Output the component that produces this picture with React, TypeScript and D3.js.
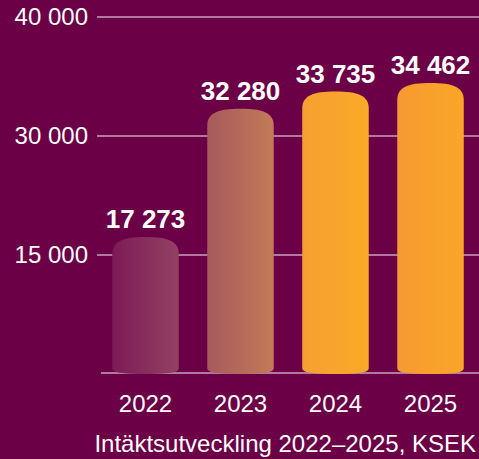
import { useEffect, useRef } from 'react';
import * as d3 from 'd3';

const years = ['2022', '2023', '2024', '2025'];
const revenue = [17273, 32280, 33735, 34462];
const tickValues = [0, 15000, 30000, 40000];
const tickLabels = ['', '15 000', '30 000', '40 000'];
const caption = 'Intäktsutveckling 2022–2025, KSEK';

// left/right colours of each bar's gradient
const barColors: [string, string][] = [
  ['#7c1a57', '#934262'],
  ['#a65a5c', '#c27a58'],
  ['#f6a032', '#f9aa27'],
  ['#f69a32', '#faa627'],
];

const W = 479;
const H = 459;
const BG = '#6b0046';
const GRID = '#c9a0bf';
const FONT = '"Liberation Sans", Arial, sans-serif';

const fmt = (v: number) => d3.format(',')(v).replace(/,/g, ' ');

export default function App() {
  const ref = useRef<SVGSVGElement>(null);

  useEffect(() => {
    if (!ref.current) return;
    const svg = d3.select(ref.current);
    svg.selectAll('*').remove();

    // axis ticks are evenly spaced, so the scale is piecewise linear
    const y = d3.scaleLinear()
      .domain(tickValues)
      .range([373, 255, 136, 17]);

    const x = d3.scaleBand<string>()
      .domain(years)
      .range([98, 478])
      .paddingInner(0.3)
      .paddingOuter(0.15);

    svg.append('rect').attr('width', W).attr('height', H).attr('fill', BG);

    const defs = svg.append('defs');
    barColors.forEach((c, i) => {
      const g = defs.append('linearGradient')
        .attr('id', `bar-grad-${i}`)
        .attr('x1', 0).attr('x2', 1).attr('y1', 0).attr('y2', 0);
      g.append('stop').attr('offset', '0%').attr('stop-color', c[0]);
      g.append('stop').attr('offset', '100%').attr('stop-color', c[1]);
    });

    // grid lines
    svg.append('g')
      .selectAll('line')
      .data(tickValues)
      .join('line')
      .attr('x1', d => (d === 0 ? 101 : 97))
      .attr('x2', W)
      .attr('y1', d => y(d))
      .attr('y2', d => y(d))
      .attr('stroke', GRID)
      .attr('stroke-width', 1.6);

    // y tick labels
    svg.append('g')
      .selectAll('text')
      .data(tickValues)
      .join('text')
      .attr('x', 88)
      .attr('y', d => y(d))
      .attr('dy', '0.35em')
      .attr('text-anchor', 'end')
      .attr('fill', '#ffffff')
      .style('font-family', FONT)
      .style('font-size', '24px')
      .text((_, i) => tickLabels[i]);

    // bar with domed top
    const barPath = (x0: number, w: number, yt: number, yb: number) => {
      const x1 = x0 + w;
      const ry = 17;
      const rb = 6;
      return [
        `M${x0},${yb - rb}`,
        `L${x0},${yt + ry}`,
        `C${x0},${yt + ry * 0.25} ${x0 + w * 0.16},${yt} ${x0 + w / 2},${yt}`,
        `C${x1 - w * 0.16},${yt} ${x1},${yt + ry * 0.25} ${x1},${yt + ry}`,
        `L${x1},${yb - rb}`,
        `C${x1},${yb - rb * 0.2} ${x1 - w * 0.15},${yb} ${x0 + w / 2},${yb}`,
        `C${x0 + w * 0.15},${yb} ${x0},${yb - rb * 0.2} ${x0},${yb - rb}`,
        'Z',
      ].join(' ');
    };

    const bw = x.bandwidth();
    svg.append('g')
      .selectAll('path')
      .data(revenue)
      .join('path')
      .attr('d', (d, i) => barPath(x(years[i]) ?? 0, bw, y(d), y(0) + 1))
      .attr('fill', (_, i) => `url(#bar-grad-${i})`);

    // value labels
    svg.append('g')
      .selectAll('text')
      .data(revenue)
      .join('text')
      .attr('x', (_, i) => (x(years[i]) ?? 0) + bw / 2)
      .attr('y', d => y(d) - 9)
      .attr('text-anchor', 'middle')
      .attr('fill', '#ffffff')
      .style('font-family', FONT)
      .style('font-weight', 'bold')
      .style('font-size', '26px')
      .text(d => fmt(d));

    // year labels
    svg.append('g')
      .selectAll('text')
      .data(years)
      .join('text')
      .attr('x', d => (x(d) ?? 0) + bw / 2)
      .attr('y', 412)
      .attr('text-anchor', 'middle')
      .attr('fill', '#ffffff')
      .style('font-family', FONT)
      .style('font-size', '24px')
      .text(d => d);

    svg.append('text')
      .attr('x', 476)
      .attr('y', 452)
      .attr('text-anchor', 'end')
      .attr('fill', '#ffffff')
      .style('font-family', FONT)
      .style('font-size', '24px')
      .text(caption);
  }, []);

  return (
    <div style={{ position: 'fixed', left: 0, top: 0 }}>
      <svg ref={ref} width={W} height={H} style={{ display: 'block' }} />
    </div>
  );
}
